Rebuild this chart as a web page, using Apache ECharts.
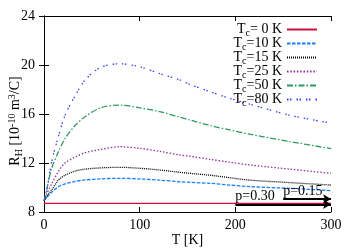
<!DOCTYPE html>
<html><head><meta charset="utf-8">
<script src="https://cdn.jsdelivr.net/npm/echarts@6/dist/echarts.min.js"></script>
<style>html,body{margin:0;padding:0;background:#fff}#c{width:355px;height:249px}</style>
</head><body><div id="c"></div>
<script>
const T = [0, 3, 8, 15, 22, 33, 43, 59, 79, 100, 121, 142, 153, 174, 194, 215, 257, 300];
const T0 = [0, 300];
const tc0 = [8.7, 8.7];
const tc10 = [8.9, 9.2, 9.6, 10.07, 10.3, 10.5, 10.62, 10.7, 10.75, 10.7, 10.6, 10.47, 10.42, 10.34, 10.2, 10.07, 9.93, 9.75];
const tc15 = [8.9, 9.3, 9.8, 10.6, 11.0, 11.35, 11.5, 11.6, 11.65, 11.57, 11.43, 11.24, 11.15, 11.0, 10.8, 10.6, 10.4, 10.2];
const tc25 = [8.9, 9.5, 10.3, 11.3, 12.0, 12.5, 12.84, 13.1, 13.33, 13.2, 12.95, 12.65, 12.55, 12.3, 12.07, 11.84, 11.5, 11.16];
const tc50 = [8.9, 9.9, 11.57, 12.9, 14.0, 15.1, 15.78, 16.5, 16.73, 16.5, 16.2, 15.73, 15.5, 15.05, 14.7, 14.35, 13.75, 13.17];
const tc80 = [8.9, 9.8, 12.1, 14.15, 15.9, 17.55, 18.78, 19.8, 20.1, 19.86, 19.3, 18.78, 18.4, 17.82, 17.28, 16.8, 15.9, 15.25];
const names = ['T_c= 0 K', 'T_c=10 K', 'T_c=15 K', 'T_c=25 K', 'T_c=50 K', 'T_c=80 K'];
const xTicks = [0, 100, 200, 300];
const yTicks = [8, 12, 16, 20, 24];
const arrow30 = {label: 'p=0.30', from: 200, to: 300, y: 8.63};
const arrow15 = {label: 'p=0.15', from: 250, to: 300, y: 9.06};

const FONT = 'Liberation Serif';
const FS = 14;
const pair = (xs, ys) => xs.map((x, i) => [x, ys[i]]);
const mk = (name, xs, ys, color, type) => ({
  name, type: 'line', data: pair(xs, ys), symbol: 'none', smooth: 0.3,
  lineStyle: {color, width: 1.3, type}, itemStyle: {color}, z: 3
});
const chart = echarts.init(document.getElementById('c'), null, {renderer: 'canvas'});
const tickStyle = {show: true, inside: true, length: 5, lineStyle: {color: '#000', width: 1}};
chart.setOption({
  animation: false,
  backgroundColor: '#fff',
  textStyle: {fontFamily: FONT},
  grid: {left: 44, right: 24, top: 16, bottom: 37, containLabel: false, outerBoundsMode: 'none'},
  xAxis: [{
    type: 'value', min: xTicks[0], max: xTicks[xTicks.length - 1], interval: 100,
    axisLine: {show: true, onZero: false, lineStyle: {color: '#000', width: 1}},
    axisTick: tickStyle, splitLine: {show: false},
    axisLabel: {color: '#000', fontFamily: FONT, fontSize: FS, margin: 6},
    name: 'T [K]', nameLocation: 'middle', nameGap: 21, nameMoveOverlap: false,
    nameTextStyle: {color: '#000', fontFamily: FONT, fontSize: FS}
  }, {
    type: 'value', position: 'top', min: 0, max: 300, interval: 100,
    axisLine: {show: true, lineStyle: {color: '#000', width: 1}},
    axisTick: tickStyle, axisLabel: {show: false}, splitLine: {show: false}
  }],
  yAxis: [{
    type: 'value', min: yTicks[0], max: yTicks[yTicks.length - 1], interval: 4,
    axisLine: {show: true, onZero: false, lineStyle: {color: '#000', width: 1}},
    axisTick: tickStyle, splitLine: {show: false},
    axisLabel: {color: '#000', fontFamily: FONT, fontSize: FS, margin: 9},
    name: '{t|R}{s|H}{t| [10}{p|-10}{t| m}{p|3}{t|/C]}',
    nameLocation: 'middle', nameGap: 20, nameMoveOverlap: false,
    nameTextStyle: {
      color: '#000', fontFamily: FONT, fontSize: FS, padding: [0, 14, 0, 0],
      rich: {
        t: {fontFamily: FONT, fontSize: FS, color: '#000'},
        s: {fontFamily: FONT, fontSize: 10, color: '#000', padding: [7, 0, 0, 0]},
        p: {fontFamily: FONT, fontSize: 10, color: '#000', padding: [0, 0, 7, 0]}
      }
    }
  }, {
    type: 'value', position: 'right', min: 8, max: 24, interval: 4,
    axisLine: {show: true, lineStyle: {color: '#000', width: 1}},
    axisTick: tickStyle, axisLabel: {show: false}, splitLine: {show: false}
  }],
  legend: {
    data: names, orient: 'vertical', right: 37, top: 21, align: 'right',
    itemWidth: 30, itemHeight: 8, itemGap: -3, padding: 0,
    itemStyle: {opacity: 0},
    formatter: n => '{t|T}{s|c}{t|' + n.slice(3) + '}',
    textStyle: {
      fontFamily: FONT, fontSize: FS, color: '#000',
      rich: {
        t: {fontFamily: FONT, fontSize: FS, color: '#000', lineHeight: 14},
        s: {fontFamily: FONT, fontSize: 10, color: '#000', padding: [7, 0, 0, 0], lineHeight: 14}
      }
    }
  },
  series: [
    mk(names[0], T0, tc0, '#cc1040', 'solid'),
    mk(names[1], T, tc10, '#1a7cff', [3.5, 1.5]),
    mk(names[2], T, tc15, '#000000', [1, 1]),
    mk(names[3], T, tc25, '#9130a0', [1.5, 1.8]),
    mk(names[4], T, tc50, '#2a9a60', [6, 2, 1.5, 2]),
    mk(names[5], T, tc80, '#3c3cff', [1.5, 1.5, 1.5, 5]),
    {
      name: 'arrows', type: 'line', data: [], symbol: 'none', z: 5,
      markLine: {
        silent: true, symbol: ['none', 'arrow'], symbolSize: [7, 8],
        lineStyle: {color: '#000', width: 2, type: 'solid'},
        label: {show: true, position: 'insideStartTop', distance: [0, 1], color: '#000', fontFamily: FONT, fontSize: FS},
        data: [arrow30, arrow15].map(a => [
          {coord: [a.from, a.y], name: a.label, label: {formatter: a.label}},
          {coord: [a.to, a.y]}
        ])
      }
    }
  ]
});
</script></body></html>
